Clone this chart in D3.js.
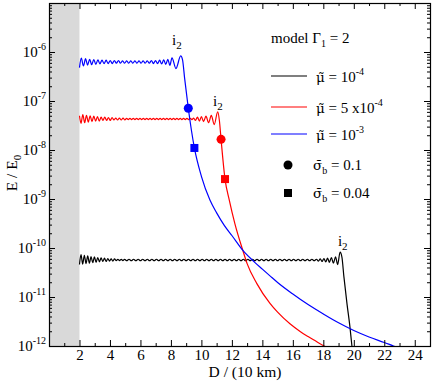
<!DOCTYPE html>
<html>
<head>
<meta charset="utf-8">
<script src="https://cdn.jsdelivr.net/npm/d3@7"></script>
<style>
body { margin: 0; background: #fff; }
svg { font-family: "Liberation Serif", "Times New Roman", serif; }
</style>
</head>
<body>
<svg width="436" height="381"></svg>
<script>
// E/E0 vs D as [D, E]
var blueCurve = [
  [2.00,4.8e-7],[2.12,7.5e-7],[2.26,5.2e-7],[2.40,7.3e-7],[2.53,5.4e-7],[2.67,7.1e-7],[2.80,5.5e-7],[2.94,7.0e-7],
  [3.07,5.6e-7],[3.21,6.9e-7],[3.34,5.7e-7],[3.48,6.8e-7],[3.61,5.8e-7],[3.75,6.8e-7],[3.88,5.8e-7],[4.02,6.7e-7],
  [4.15,5.8e-7],[4.29,6.7e-7],[4.42,5.9e-7],[4.56,6.7e-7],[4.69,5.9e-7],[4.83,6.6e-7],[4.96,5.9e-7],[5.10,6.6e-7],
  [5.23,5.9e-7],[5.37,6.6e-7],[5.50,5.9e-7],[5.64,6.6e-7],[5.77,5.9e-7],[5.91,6.6e-7],[6.04,5.9e-7],[6.18,6.6e-7],
  [6.31,5.9e-7],[6.45,6.6e-7],[6.58,5.9e-7],[6.72,6.7e-7],[6.85,5.8e-7],[6.99,6.7e-7],[7.12,5.8e-7],[7.26,6.8e-7],
  [7.39,5.7e-7],[7.53,6.9e-7],[7.66,5.6e-7],[7.80,7.1e-7],[7.93,5.3e-7],[8.07,7.6e-7],[8.33,4.6e-7],[8.64,8.3e-7],
  [8.76,7.0e-7],[8.90,2.9e-7],[9.14,7.1e-8],[9.54,1.1e-8],[10.0,2.9e-9],[10.56,9.5e-10],[11.0,5.2e-10],
  [11.5,2.9e-10],[12.0,1.8e-10],[12.75,8.7e-11],[13.5,5.1e-11],[14.0,3.7e-11],[14.5,2.7e-11],[15.0,1.98e-11],
  [16.0,1.15e-11],[17.0,7.0e-12],[18.0,4.5e-12],[19.0,2.97e-12],[20.0,2.07e-12],[21.0,1.53e-12],[22.0,1.18e-12],
  [22.6,1.0e-12],[23.0,9.0e-13]
];

var redCurve = [
  [2.00,5.0e-8],[2.10,3.5e-8],[2.22,5.3e-8],[2.34,3.6e-8],[2.46,5.1e-8],[2.58,3.7e-8],[2.70,5.0e-8],[2.82,3.8e-8],
  [2.94,4.9e-8],[3.06,3.9e-8],[3.18,4.8e-8],[3.30,3.9e-8],[3.42,4.7e-8],[3.54,4.0e-8],[3.66,4.7e-8],[3.78,4.0e-8],
  [3.90,4.6e-8],[4.02,4.0e-8],[4.14,4.6e-8],[4.26,4.1e-8],[4.38,4.5e-8],[4.50,4.1e-8],[4.62,4.5e-8],[4.74,4.1e-8],
  [4.86,4.5e-8],[4.98,4.1e-8],
  [5.09,4.45e-8],[5.20,4.15e-8],[5.31,4.45e-8],[5.42,4.15e-8],[5.53,4.45e-8],[5.64,4.15e-8],[5.75,4.45e-8],
  [5.86,4.15e-8],[5.97,4.45e-8],[6.08,4.15e-8],[6.19,4.45e-8],[6.30,4.15e-8],[6.41,4.45e-8],[6.52,4.15e-8],
  [6.63,4.45e-8],[6.74,4.15e-8],[6.85,4.45e-8],[6.96,4.15e-8],[7.07,4.45e-8],[7.18,4.15e-8],[7.29,4.45e-8],
  [7.40,4.15e-8],[7.51,4.45e-8],[7.62,4.15e-8],[7.73,4.45e-8],[7.84,4.15e-8],[7.95,4.45e-8],[8.06,4.15e-8],
  [8.17,4.45e-8],[8.28,4.15e-8],[8.39,4.45e-8],[8.50,4.15e-8],[8.61,4.45e-8],[8.72,4.15e-8],[8.83,4.45e-8],
  [8.94,4.15e-8],[9.05,4.45e-8],[9.16,4.15e-8],[9.27,4.45e-8],[9.38,4.15e-8],[9.49,4.5e-8],
  [9.61,4.0e-8],[9.74,4.7e-8],[9.87,3.9e-8],[10.00,4.8e-8],[10.14,3.8e-8],[10.30,4.9e-8],[10.47,3.6e-8],
  [10.65,5.1e-8],[10.84,3.3e-8],[11.07,6.0e-8],[11.18,4.0e-8],[11.29,1.65e-8],[11.55,2.55e-9],[11.83,9.5e-10],
  [12.2,3.1e-10],[12.73,8.7e-11],[13.0,4.8e-11],[13.63,1.9e-11],[14.5,7.4e-12],[15.0,4.9e-12],[15.81,2.84e-12],
  [16.5,1.96e-12],[17.0,1.56e-12],[17.5,1.26e-12],[18.05,1.0e-12],[18.4,9.0e-13]
];

var blackCurve = [
  [2.00,4.6e-11],[2.10,7.3e-11],[2.21,4.7e-11],[2.32,7.1e-11],[2.43,4.8e-11],[2.54,6.9e-11],[2.65,4.9e-11],
  [2.76,6.7e-11],[2.87,5.0e-11],[2.98,6.6e-11],[3.09,5.1e-11],[3.20,6.4e-11],[3.31,5.2e-11],[3.42,6.3e-11],
  [3.53,5.3e-11],[3.64,6.2e-11],[3.75,5.3e-11],[3.86,6.1e-11],[3.97,5.4e-11],[4.08,6.0e-11],[4.19,5.4e-11],
  [4.30,6.0e-11],[4.41,5.5e-11],[4.52,5.9e-11],[4.63,5.5e-11],[4.74,5.9e-11],[4.85,5.5e-11],[4.96,5.9e-11],
  [5.10,5.5e-11],[5.25,5.9e-11],[5.40,5.5e-11],[5.55,5.9e-11],[5.70,5.5e-11],[5.85,5.9e-11],[6.00,5.5e-11],
  [6.15,5.9e-11],[6.30,5.5e-11],[6.45,5.9e-11],[6.60,5.5e-11],[6.75,5.9e-11],[6.90,5.5e-11],[7.05,5.9e-11],
  [7.20,5.5e-11],[7.35,5.9e-11],[7.50,5.5e-11],[7.65,5.9e-11],[7.80,5.5e-11],[7.95,5.9e-11],[8.10,5.5e-11],
  [8.25,5.9e-11],[8.40,5.5e-11],[8.55,5.9e-11],[8.70,5.5e-11],[8.85,5.9e-11],[9.00,5.5e-11],[9.15,5.9e-11],
  [9.30,5.5e-11],[9.45,5.9e-11],[9.60,5.5e-11],[9.75,5.9e-11],[9.90,5.5e-11],[10.05,5.9e-11],[10.20,5.5e-11],
  [10.35,5.9e-11],[10.50,5.5e-11],[10.65,5.9e-11],[10.80,5.5e-11],[10.95,5.9e-11],[11.10,5.5e-11],[11.25,5.9e-11],
  [11.40,5.5e-11],[11.55,5.9e-11],[11.70,5.5e-11],[11.85,5.9e-11],[12.00,5.5e-11],[12.15,5.9e-11],[12.30,5.5e-11],
  [12.45,5.9e-11],[12.60,5.5e-11],[12.75,5.9e-11],[12.90,5.5e-11],[13.05,5.9e-11],[13.20,5.5e-11],[13.35,5.9e-11],
  [13.50,5.5e-11],[13.65,5.9e-11],[13.80,5.5e-11],[13.95,5.9e-11],[14.10,5.5e-11],[14.25,5.9e-11],[14.40,5.5e-11],
  [14.55,5.9e-11],[14.70,5.5e-11],[14.85,5.9e-11],[15.00,5.5e-11],[15.15,5.9e-11],[15.30,5.5e-11],[15.45,5.9e-11],
  [15.60,5.5e-11],[15.75,5.9e-11],[15.90,5.5e-11],[16.05,5.9e-11],[16.20,5.5e-11],[16.35,5.9e-11],[16.50,5.5e-11],
  [16.65,5.9e-11],[16.80,5.5e-11],[16.95,5.9e-11],[17.10,5.5e-11],[17.25,5.9e-11],[17.40,5.5e-11],[17.55,5.9e-11],
  [17.68,5.4e-11],[17.80,6.0e-11],[17.92,5.3e-11],[18.04,6.1e-11],[18.16,5.2e-11],[18.28,6.2e-11],[18.40,5.1e-11],
  [18.53,6.4e-11],[18.66,4.9e-11],[18.80,6.6e-11],[18.94,4.6e-11],[19.10,8.2e-11],[19.22,6.5e-11],[19.35,2.6e-11],
  [19.55,7.4e-12],[19.75,2.4e-12],[19.90,8.5e-13]
];

// sigma_b markers: [circle (0.1), square (0.04)]
var blueMarkers = [[9.14, 7.1e-8], [9.54, 1.1e-8]];
var redMarkers = [[11.29, 1.65e-8], [11.55, 2.55e-9]];

// i2 annotations [D, E]
var i2Labels = [[8.07, 1.39e-6], [10.76, 7.9e-8], [18.96, 1.1e-10]];

var xMajor = [2, 4, 6, 8, 10, 12, 14, 16, 18, 20, 22, 24];
var xMinor = [1, 3, 5, 7, 9, 11, 13, 15, 17, 19, 21, 23, 25];
var yMajor = [1e-12, 1e-11, 1e-10, 1e-9, 1e-8, 1e-7, 1e-6, 1e-5];
var yLabels = ["-12", "-11", "-10", "-9", "-8", "-7", "-6", ""];

var muLabels = [["10", "-4"], ["5 x10", "-4"], ["10", "-3"]];
var sigmaLabels = ["0.1", "0.04"];

var svg = d3.select("svg"),
    margin = {top: 3, right: 6, bottom: 35, left: 49},
    width = +svg.attr("width") - margin.left - margin.right,
    height = +svg.attr("height") - margin.top - margin.bottom;

var x = d3.scaleLinear().domain([0, 25]).range([0, width]),
    y = d3.scaleLog().domain([1e-12, 1e-5]).range([height, 0]);

var g = svg.append("g")
    .attr("transform", "translate(" + margin.left + "," + margin.top + ")");

svg.append("defs").append("clipPath")
    .attr("id", "clip")
  .append("rect")
    .attr("width", width)
    .attr("height", height);

// shaded region D < 2
g.append("rect")
    .attr("x", x(0))
    .attr("width", x(2) - x(0))
    .attr("height", height)
    .attr("fill", "#d9d9d9");

var line = d3.line()
    .curve(d3.curveMonotoneX)
    .x(function(d) { return x(d[0]); })
    .y(function(d) { return y(d[1]); });

var curves = [[blackCurve, "#000"], [redCurve, "#ff0000"], [blueCurve, "#0000ff"]];
curves.forEach(function(c) {
  g.append("path")
      .datum(c[0])
      .attr("clip-path", "url(#clip)")
      .attr("fill", "none")
      .attr("stroke", c[1])
      .attr("stroke-width", 1.2)
      .attr("d", line);
});

function drawMarkers(pts, color) {
  g.append("circle")
      .attr("cx", x(pts[0][0]))
      .attr("cy", y(pts[0][1]))
      .attr("r", 4.5)
      .attr("fill", color);
  g.append("rect")
      .attr("x", x(pts[1][0]) - 4)
      .attr("y", y(pts[1][1]) - 4)
      .attr("width", 8)
      .attr("height", 8)
      .attr("fill", color);
}
drawMarkers(blueMarkers, "#0000ff");
drawMarkers(redMarkers, "#ff0000");

i2Labels.forEach(function(d) {
  var t = g.append("text")
      .attr("x", x(d[0]))
      .attr("y", y(d[1]))
      .style("font-size", "15px")
      .text("i");
  t.append("tspan").attr("dy", 4).style("font-size", "11px").text("2");
});

// axes, ticks inward
var minorY = y.ticks().filter(function(d) { return yMajor.indexOf(d) < 0; });

function clean(sel) { sel.select(".domain").remove(); }

g.append("g")
    .attr("transform", "translate(0," + height + ")")
    .call(d3.axisBottom(x).tickValues(xMajor).tickSizeInner(-6).tickSizeOuter(0).tickPadding(3))
    .call(clean)
    .call(function(s) { s.selectAll("text").style("font-size", "15px").attr("fill", "#000").style("font-family", "Liberation Serif"); });

g.append("g")
    .attr("transform", "translate(0," + height + ")")
    .call(d3.axisBottom(x).tickValues(xMinor).tickSizeInner(-3).tickSizeOuter(0).tickFormat(""))
    .call(clean);

g.append("g")
    .call(d3.axisTop(x).tickValues(xMajor).tickSizeInner(-6).tickSizeOuter(0).tickFormat(""))
    .call(clean);
g.append("g")
    .call(d3.axisTop(x).tickValues(xMinor).tickSizeInner(-3).tickSizeOuter(0).tickFormat(""))
    .call(clean);

g.append("g")
    .call(d3.axisLeft(y).tickValues(yMajor).tickSizeInner(-6).tickSizeOuter(0).tickPadding(3)
      .tickFormat(function(d, i) { return i; }))
    .call(clean)
    .call(function(s) {
      s.selectAll(".tick text").each(function(d, i) {
        var t = d3.select(this);
        t.text(null).attr("fill", "#000").style("font-size", "15px").style("font-family", "Liberation Serif");
        if (!yLabels[i]) return;
        t.append("tspan").text("10");
        t.append("tspan").attr("dy", -7).style("font-size", "10px").text(yLabels[i]);
      });
    });
g.append("g")
    .call(d3.axisLeft(y).tickValues(minorY).tickSizeInner(-3).tickSizeOuter(0).tickFormat(""))
    .call(clean);

g.append("g")
    .attr("transform", "translate(" + width + ",0)")
    .call(d3.axisRight(y).tickValues(yMajor).tickSizeInner(-6).tickSizeOuter(0).tickFormat(""))
    .call(clean);
g.append("g")
    .attr("transform", "translate(" + width + ",0)")
    .call(d3.axisRight(y).tickValues(minorY).tickSizeInner(-3).tickSizeOuter(0).tickFormat(""))
    .call(clean);

g.append("rect")
    .attr("x", 0.5)
    .attr("y", 0.5)
    .attr("width", width)
    .attr("height", height)
    .attr("fill", "none")
    .attr("stroke", "#000")
    .attr("stroke-width", 1.2);

// axis titles
svg.append("text")
    .attr("x", 245)
    .attr("y", 377)
    .attr("text-anchor", "middle")
    .style("font-size", "15.5px")
    .text("D / (10 km)");

var yt = svg.append("text")
    .attr("transform", "translate(17,173)rotate(-90)")
    .attr("text-anchor", "middle")
    .style("font-size", "15.5px")
    .text("E / E");
yt.append("tspan").attr("dy", 4).style("font-size", "11px").text("0");

// legend
var leg = svg.append("g");
var title = leg.append("text").attr("x", 271).attr("y", 43).style("font-size", "15px").text("model \u0393");
title.append("tspan").attr("dy", 4).style("font-size", "10px").text("1");
title.append("tspan").attr("dy", -4).text(" = 2");

// accented greek letter with a combining mark, in a font that places the mark
function accented(x0, y0, chars) {
  var t = leg.append("text")
      .attr("x", x0)
      .attr("y", y0)
      .style("font-size", "15px");
  t.append("tspan")
      .style("font-family", "DejaVu Serif")
      .style("font-size", "13.5px")
      .text(chars);
  return t;
}

var legColors = ["#000", "#ff0000", "#0000ff"],
    legY = [76, 107, 134];
muLabels.forEach(function(m, i) {
  leg.append("line")
      .attr("x1", 271).attr("x2", 307)
      .attr("y1", legY[i]).attr("y2", legY[i])
      .attr("stroke", legColors[i])
      .attr("stroke-width", 1.2);
  var t = accented(316, legY[i] + 6, "\u03bc\u0303");
  t.append("tspan").text(" = " + m[0]);
  t.append("tspan").attr("dy", -7).style("font-size", "10px").text(m[1]);
});

var sigY = [165, 193];
leg.append("circle").attr("cx", 288).attr("cy", sigY[0]).attr("r", 4.5).attr("fill", "#000");
leg.append("rect").attr("x", 284).attr("y", sigY[1] - 4).attr("width", 8).attr("height", 8).attr("fill", "#000");
sigmaLabels.forEach(function(s, i) {
  var t = accented(313, sigY[i] + 5, "\u03c3\u0304");
  t.append("tspan").attr("dy", 4).style("font-size", "10px").text("b");
  t.append("tspan").attr("dy", -4).text(" = " + s);
});
</script>
</body>
</html>
